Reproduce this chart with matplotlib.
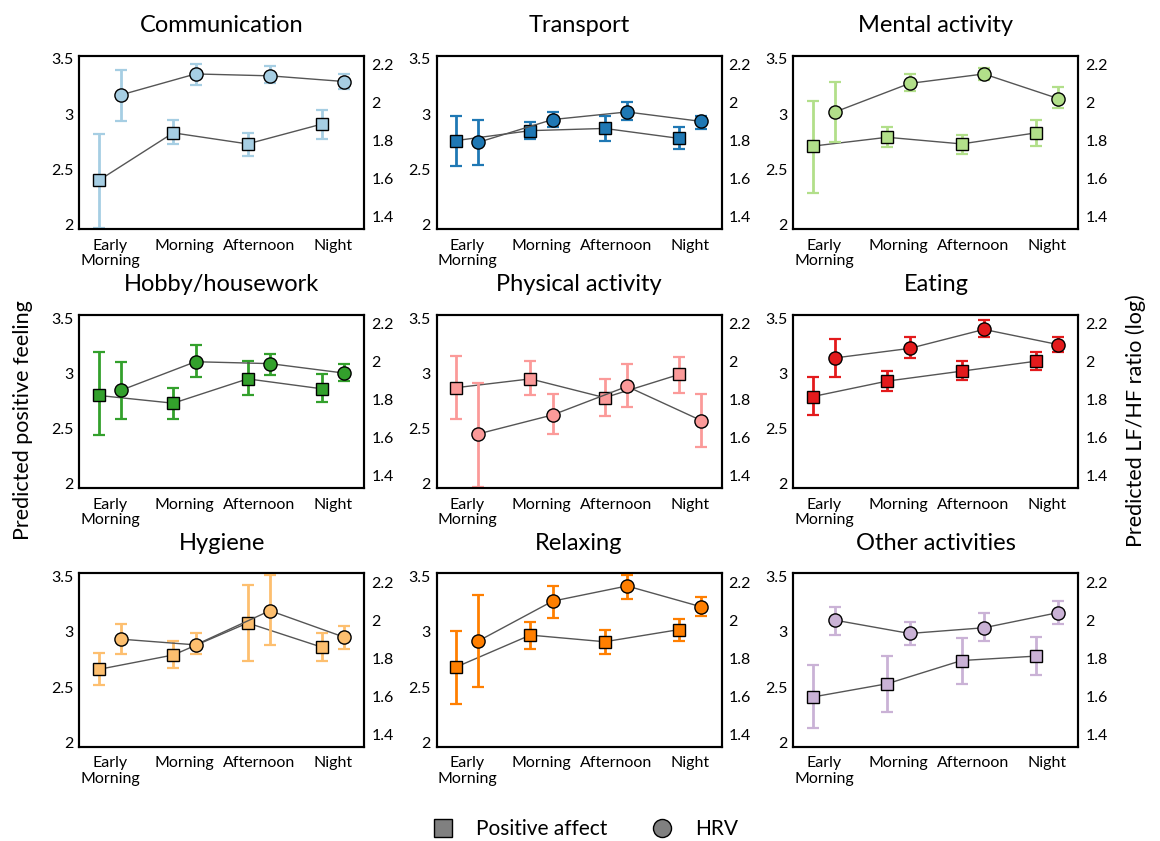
import matplotlib
matplotlib.use("Agg")
import matplotlib.pyplot as plt
from matplotlib.lines import Line2D
import numpy as np

plt.rcParams['font.family'] = ['Lato', 'DejaVu Sans']

# Data
times = ["Early\nMorning", "Morning", "Afternoon", "Night"]
activities = ["Communication", "Transport", "Mental activity",
              "Hobby/housework", "Physical activity", "Eating",
              "Hygiene", "Relaxing", "Other activities"]
colors = ["#a6cee3", "#1f78b4", "#b2df8a",
          "#33a02c", "#fb9a99", "#e31a1c",
          "#fdbf6f", "#ff7f00", "#cab2d6"]

# positive affect (left axis): mean, lower, upper
pa_mean = [[2.40, 2.83, 2.73, 2.91],
           [2.76, 2.85, 2.87, 2.78],
           [2.71, 2.79, 2.73, 2.83],
           [2.80, 2.73, 2.95, 2.86],
           [2.87, 2.95, 2.78, 2.99],
           [2.79, 2.93, 3.02, 3.11],
           [2.66, 2.79, 3.08, 2.86],
           [2.68, 2.97, 2.91, 3.02],
           [2.41, 2.53, 2.74, 2.78]]
pa_lo = [[1.97, 2.73, 2.62, 2.77],
         [2.53, 2.77, 2.76, 2.68],
         [2.29, 2.70, 2.64, 2.71],
         [2.44, 2.59, 2.80, 2.74],
         [2.59, 2.80, 2.61, 2.82],
         [2.62, 2.84, 2.94, 3.03],
         [2.52, 2.67, 2.74, 2.74],
         [2.35, 2.84, 2.80, 2.92],
         [2.13, 2.27, 2.53, 2.61]]
pa_hi = [[2.82, 2.95, 2.83, 3.04],
         [2.98, 2.93, 2.98, 2.88],
         [3.12, 2.88, 2.81, 2.95],
         [3.19, 2.87, 3.11, 2.99],
         [3.16, 3.11, 2.95, 3.15],
         [2.97, 3.02, 3.11, 3.19],
         [2.81, 2.92, 3.42, 2.99],
         [3.01, 3.09, 3.02, 3.12],
         [2.70, 2.78, 2.94, 2.95]]

# HRV, LF/HF ratio log (right axis): mean, lower, upper
hrv_mean = [[2.04, 2.15, 2.14, 2.11],
            [1.79, 1.91, 1.95, 1.90],
            [1.95, 2.10, 2.15, 2.02],
            [1.85, 2.00, 1.99, 1.94],
            [1.62, 1.72, 1.87, 1.69],
            [2.02, 2.07, 2.17, 2.09],
            [1.90, 1.87, 2.05, 1.91],
            [1.89, 2.10, 2.18, 2.07],
            [2.00, 1.93, 1.96, 2.04]]
hrv_lo = [[1.90, 2.09, 2.10, 2.07],
          [1.67, 1.87, 1.91, 1.86],
          [1.79, 2.06, 2.12, 1.97],
          [1.70, 1.92, 1.93, 1.90],
          [1.34, 1.62, 1.76, 1.55],
          [1.92, 2.02, 2.13, 2.05],
          [1.82, 1.82, 1.87, 1.85],
          [1.65, 2.01, 2.11, 2.02],
          [1.92, 1.87, 1.89, 1.98]]
hrv_hi = [[2.17, 2.20, 2.19, 2.15],
          [1.91, 1.95, 2.00, 1.93],
          [2.11, 2.15, 2.18, 2.08],
          [2.00, 2.09, 2.04, 1.99],
          [1.89, 1.83, 1.99, 1.83],
          [2.12, 2.13, 2.22, 2.13],
          [1.98, 1.93, 2.24, 1.97],
          [2.13, 2.18, 2.24, 2.12],
          [2.07, 1.99, 2.04, 2.10]]

fig = plt.figure(figsize=(11.6, 8.41), dpi=100)

lefts = [0.0685, 0.3763, 0.684]
bottoms = [0.7277, 0.4194, 0.1121]
w, h = 0.2457, 0.2063

x = np.arange(4)
off = 0.3

for k, name in enumerate(activities):
    r, c = divmod(k, 3)
    ax = fig.add_axes([lefts[c], bottoms[r], w, h])
    ax2 = ax.twinx()
    col = colors[k]

    m = np.array(pa_mean[k])
    err = [m - np.array(pa_lo[k]), np.array(pa_hi[k]) - m]
    ax.errorbar(x, m, yerr=err, fmt='none', ecolor=col, elinewidth=2,
                capsize=4.5, capthick=1.6, zorder=2)
    ax.plot(x, m, color='#555555', lw=1, zorder=3)
    ax.plot(x, m, 's', ms=9, mfc=col, mec='black', mew=1, zorder=4)

    hm = np.array(hrv_mean[k])
    herr = [hm - np.array(hrv_lo[k]), np.array(hrv_hi[k]) - hm]
    ax2.errorbar(x + off, hm, yerr=herr, fmt='none', ecolor=col, elinewidth=2,
                 capsize=4.5, capthick=1.6, zorder=2)
    ax2.plot(x + off, hm, color='#555555', lw=1, zorder=3)
    ax2.plot(x + off, hm, 'o', ms=9.5, mfc=col, mec='black', mew=1, zorder=4)

    ax.set_xlim(-0.26, 3.57)
    ax.set_ylim(1.96, 3.53)
    ax2.set_ylim(1.334, 2.247)
    ax.set_xticks(x + 0.15)
    ax.set_xticklabels(times, fontsize=11.5, linespacing=1.1)
    ax.set_yticks([2, 2.5, 3, 3.5])
    ax.set_yticklabels(['2', '2.5', '3', '3.5'], fontsize=11.5)
    ax2.set_yticks([1.4, 1.6, 1.8, 2.0, 2.2])
    ax2.set_yticklabels(['1.4', '1.6', '1.8', '2', '2.2'], fontsize=11.5)
    ax.tick_params(axis='y', length=0, pad=4)
    ax.tick_params(axis='x', length=0, pad=7)
    ax2.tick_params(length=0, pad=5)
    for a in (ax, ax2):
        for s in a.spines.values():
            s.set_linewidth(1.5)
    ax.set_title(name, fontsize=17, pad=17)

fig.text(0.02, 0.5, "Predicted positive feeling", rotation=90,
         ha='center', va='center', fontsize=15.5)
fig.text(0.979, 0.5, "Predicted LF/HF ratio (log)", rotation=90,
         ha='center', va='center', fontsize=15.5)

handles = [Line2D([], [], ls='none', marker='s', ms=13, mfc='#808080', mec='black', mew=1),
           Line2D([], [], ls='none', marker='o', ms=13, mfc='#808080', mec='black', mew=1)]
fig.legend(handles, ["Positive affect", "HRV"], loc='center', ncol=2,
           bbox_to_anchor=(0.5, 0.014), frameon=False, fontsize=15,
           columnspacing=1.6, handletextpad=0.6)

fig.savefig("out.png", dpi=100)
